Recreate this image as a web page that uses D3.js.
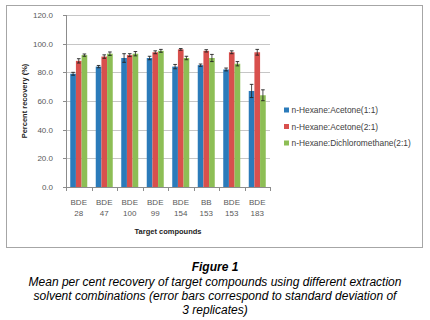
<!DOCTYPE html>
<html>
<head>
<meta charset="utf-8">
<script src="https://cdn.jsdelivr.net/npm/d3@7"></script>
<style>
  body { margin: 0; background: #fff; }
  svg { display: block; font-family: "Liberation Sans", Arial, sans-serif; }
</style>
</head>
<body>
<div id="chart"></div>
<script>
// Data
var compounds = [['BDE', '28'], ['BDE', '47'], ['BDE', '100'], ['BDE', '99'], ['BDE', '154'], ['BB', '153'], ['BDE', '153'], ['BDE', '183']];
var seriesNames = ['n-Hexane:Acetone(1:1)', 'n-Hexane:Acetone(2:1)', 'n-Hexane:Dichloromethane(2:1)'];
var hexAcetone11 = [79, 84, 90, 90, 84, 85, 82, 67];
var hexAcetone21 = [88, 91, 92, 94, 96, 95, 94, 94];
var hexDcm21 = [92, 93, 93, 95, 90, 90, 86, 64];
var err11 = [1.0, 0.8, 3.0, 1.2, 1.5, 0.8, 1.0, 4.6];
var err21 = [1.5, 1.2, 1.0, 1.0, 0.6, 0.8, 1.0, 2.0];
var errDcm = [0.8, 1.2, 1.5, 1.0, 1.2, 2.5, 1.5, 3.8];
var yTicks = [0, 20, 40, 60, 80, 100, 120];
var colors = ['#2B7BBA', '#D8504D', '#8DBE55'];

var values = [hexAcetone11, hexAcetone21, hexDcm21];
var errors = [err11, err21, errDcm];

var width = 430, height = 320;
var svg = d3.select('#chart').append('svg')
    .attr('width', width)
    .attr('height', height);

// chart frame
svg.append('rect')
    .attr('x', 6.5).attr('y', 5.5)
    .attr('width', 416).attr('height', 242)
    .attr('fill', '#fff')
    .attr('stroke', '#a6a6a6');

var plot = { left: 66, right: 270, top: 15, bottom: 187 };

var x = d3.scaleBand()
    .domain(d3.range(compounds.length))
    .range([plot.left, plot.right]);

// bars: gap width 150% -> bar = band / 4.5
var barW = x.bandwidth() / 4.5;

var y = d3.scaleLinear()
    .domain([0, 120])
    .range([plot.bottom, plot.top]);

// gridlines
svg.append('g')
    .selectAll('line')
    .data(yTicks.slice(1))
    .enter().append('line')
    .attr('x1', plot.left).attr('x2', plot.right)
    .attr('y1', function(d) { return Math.round(y(d)) + 0.5; })
    .attr('y2', function(d) { return Math.round(y(d)) + 0.5; })
    .attr('stroke', '#c6c6c6');

// y axis labels
svg.append('g')
    .selectAll('text')
    .data(yTicks)
    .enter().append('text')
    .attr('x', plot.left - 13)
    .attr('y', function(d) { return y(d) + 3; })
    .attr('text-anchor', 'end')
    .style('font-size', '8px')
    .attr('fill', '#595959')
    .text(function(d) { return d.toFixed(1); });

// y axis ticks
svg.append('g')
    .selectAll('line')
    .data(yTicks)
    .enter().append('line')
    .attr('x1', plot.left - 3).attr('x2', plot.left)
    .attr('y1', function(d) { return Math.round(y(d)) + 0.5; })
    .attr('y2', function(d) { return Math.round(y(d)) + 0.5; })
    .attr('stroke', '#8c8c8c');

// bars
var groups = svg.append('g')
    .selectAll('g')
    .data(compounds)
    .enter().append('g')
    .attr('transform', function(d, i) { return 'translate(' + x(i) + ',0)'; });

groups.each(function(c, i) {
    var g = d3.select(this);
    seriesNames.forEach(function(s, j) {
        var bx = x.bandwidth() * 0.75 / 4.5 + j * barW;
        var v = values[j][i], e = errors[j][i];
        g.append('rect')
            .attr('x', bx)
            .attr('y', y(v))
            .attr('width', barW)
            .attr('height', y(0) - y(v))
            .attr('fill', colors[j]);
        var cx = bx + barW / 2;
        g.append('line')
            .attr('x1', cx).attr('x2', cx)
            .attr('y1', y(v - e)).attr('y2', y(v + e))
            .attr('stroke', '#222').attr('stroke-width', 0.8);
        [v - e, v + e].forEach(function(t) {
            g.append('line')
                .attr('x1', cx - 1.8).attr('x2', cx + 1.8)
                .attr('y1', y(t)).attr('y2', y(t))
                .attr('stroke', '#222').attr('stroke-width', 0.9);
        });
    });
});

// axes lines
svg.append('line')
    .attr('x1', plot.left + 0.5).attr('x2', plot.left + 0.5)
    .attr('y1', plot.top).attr('y2', plot.bottom)
    .attr('stroke', '#8c8c8c');
svg.append('line')
    .attr('x1', plot.left).attr('x2', plot.right)
    .attr('y1', plot.bottom + 0.5).attr('y2', plot.bottom + 0.5)
    .attr('stroke', '#8c8c8c');

// x ticks at category boundaries
svg.append('g')
    .selectAll('line')
    .data(d3.range(compounds.length + 1))
    .enter().append('line')
    .attr('x1', function(i) { return Math.round(plot.left + i * x.bandwidth()) + 0.5; })
    .attr('x2', function(i) { return Math.round(plot.left + i * x.bandwidth()) + 0.5; })
    .attr('y1', plot.bottom).attr('y2', plot.bottom + 4)
    .attr('stroke', '#8c8c8c');

// x labels (two lines)
var xl = svg.append('g')
    .selectAll('text')
    .data(compounds)
    .enter().append('text')
    .attr('text-anchor', 'middle')
    .style('font-size', '8px')
    .attr('fill', '#595959');
xl.append('tspan')
    .attr('x', function(d, i) { return x(i) + x.bandwidth() / 2; })
    .attr('y', 205)
    .text(function(d) { return d[0]; });
xl.append('tspan')
    .attr('x', function(d, i) { return x(i) + x.bandwidth() / 2; })
    .attr('y', 216)
    .text(function(d) { return d[1]; });

// axis titles
svg.append('text')
    .attr('x', (plot.left + plot.right) / 2)
    .attr('y', 234)
    .attr('text-anchor', 'middle')
    .style('font-size', '7.5px')
    .style('font-weight', 'bold')
    .attr('fill', '#222')
    .text('Target compounds');

svg.append('text')
    .attr('transform', 'translate(27,' + ((plot.top + plot.bottom) / 2) + ') rotate(-90)')
    .attr('text-anchor', 'middle')
    .style('font-size', '7.5px')
    .style('font-weight', 'bold')
    .attr('fill', '#222')
    .text('Percent recovery (%)');

// legend
var legend = svg.selectAll('.legend')
    .data(seriesNames)
    .enter().append('g')
    .attr('class', 'legend')
    .attr('transform', function(d, i) { return 'translate(284,' + (110 + i * 16.5) + ')'; });
legend.append('rect')
    .attr('x', 0).attr('y', -2.5)
    .attr('width', 5).attr('height', 5)
    .attr('fill', function(d, i) { return colors[i]; });
legend.append('text')
    .attr('x', 7.5).attr('y', 3)
    .style('font-size', '8.4px')
    .attr('fill', '#404040')
    .text(function(d) { return d; });

// caption
svg.append('text')
    .attr('x', 215).attr('y', 271)
    .attr('text-anchor', 'middle')
    .style('font-size', '12px')
    .style('font-weight', 'bold')
    .style('font-style', 'italic')
    .text('Figure 1');
var caption = ['Mean per cent recovery of target compounds using different extraction',
    'solvent combinations (error bars correspond to standard deviation of',
    '3 replicates)'];
svg.selectAll('.cap')
    .data(caption)
    .enter().append('text')
    .attr('class', 'cap')
    .attr('x', 215)
    .attr('y', function(d, i) { return 286 + i * 13.8; })
    .attr('text-anchor', 'middle')
    .style('font-size', '12px')
    .style('font-style', 'italic')
    .text(function(d) { return d; });
</script>
</body>
</html>
